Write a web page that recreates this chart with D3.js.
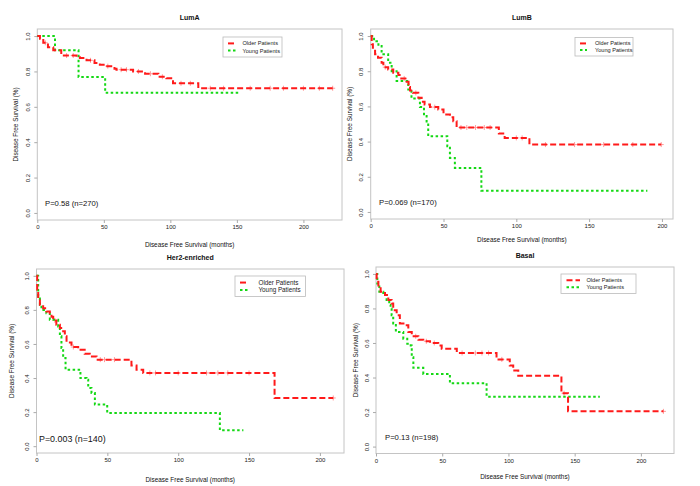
<!DOCTYPE html>
<html>
<head>
<meta charset="utf-8">
<script src="https://cdn.jsdelivr.net/npm/d3@7"></script>
<style>
  body { margin: 0; background: #fff; }
  svg { display: block; font-family: "Liberation Sans", Arial, sans-serif; }
</style>
</head>
<body>
<svg id="chart" width="700" height="486"></svg>
<script>
// ---- data (time in months, survival fraction), step-after ----
var lumaOldT = [0, 2, 4.5, 8, 12, 18, 29.5, 32, 37, 43, 47, 51, 58, 59.5, 72, 81, 91, 97, 102, 121, 222];
var lumaOldS = [1, 0.985, 0.962, 0.937, 0.92, 0.89, 0.88, 0.876, 0.863, 0.848, 0.838, 0.83, 0.815, 0.81, 0.80, 0.787, 0.77, 0.762, 0.733, 0.705, 0.705];
var lumaYoungT = [0, 13.3, 31, 51, 151];
var lumaYoungS = [1, 0.92, 0.768, 0.68, 0.68];

var lumbOldT = [0, 0.7, 1.5, 3, 5, 7.5, 8.7, 12, 15.5, 19, 21, 24.7, 26, 27, 29, 32.7, 35, 37, 40.7, 46.4, 50, 54.4, 56.7, 59, 88, 92, 109, 199.5];
var lumbOldS = [1, 0.953, 0.933, 0.896, 0.877, 0.848, 0.823, 0.81, 0.791, 0.778, 0.759, 0.74, 0.71, 0.69, 0.677, 0.649, 0.626, 0.611, 0.596, 0.583, 0.554, 0.539, 0.516, 0.48, 0.446, 0.421, 0.383, 0.383];
var lumbYoungT = [0, 2.3, 5.3, 7.5, 12, 14.4, 17.8, 25.8, 28, 33.8, 36.6, 38.4, 39.5, 52.6, 54.4, 57.8, 76, 190];
var lumbYoungS = [1, 0.97, 0.943, 0.896, 0.848, 0.80, 0.744, 0.696, 0.645, 0.596, 0.545, 0.497, 0.431, 0.374, 0.307, 0.25, 0.121, 0.121];

var her2OldT = [0, 0.5, 1.2, 2.4, 4.7, 7, 9.4, 10.6, 11.8, 14, 16.5, 18.8, 20, 21.2, 24.7, 29.4, 34, 37.6, 42.4, 67, 70.6, 75.3, 168, 209.4];
var her2OldS = [1, 0.918, 0.869, 0.83, 0.81, 0.791, 0.78, 0.76, 0.738, 0.713, 0.693, 0.674, 0.645, 0.609, 0.582, 0.566, 0.543, 0.527, 0.508, 0.473, 0.449, 0.43, 0.283, 0.283];
var her2YoungT = [0, 1.2, 2.4, 3.5, 7, 9.4, 15.3, 16.5, 17.6, 18.8, 20.5, 31, 35.3, 36.5, 38.8, 41.2, 49.9, 129.4, 146];
var her2YoungS = [1, 0.879, 0.83, 0.80, 0.78, 0.742, 0.703, 0.645, 0.576, 0.518, 0.449, 0.40, 0.39, 0.342, 0.312, 0.244, 0.195, 0.094, 0.094];

var basalOldT = [0, 0.5, 1.8, 3.5, 6.8, 9.3, 11.8, 13, 15.6, 18, 21.9, 24.4, 27, 32, 35.7, 40.8, 47, 49.6, 61, 91, 101, 103.6, 107.4, 140, 145, 217];
var basalOldS = [1, 0.955, 0.926, 0.897, 0.878, 0.849, 0.829, 0.79, 0.761, 0.713, 0.703, 0.664, 0.639, 0.619, 0.61, 0.60, 0.586, 0.567, 0.542, 0.505, 0.47, 0.44, 0.41, 0.309, 0.204, 0.204];
var basalYoungT = [0, 1, 2.5, 5.5, 8, 10, 11, 11.8, 13, 15, 20.6, 23.6, 26.2, 27, 28.2, 35.7, 55.8, 83.5, 169];
var basalYoungS = [1, 0.945, 0.897, 0.878, 0.849, 0.82, 0.80, 0.761, 0.713, 0.664, 0.625, 0.596, 0.586, 0.518, 0.456, 0.421, 0.367, 0.289, 0.289];

// censored times on the older-patients curves (light "+" marks)
var lumaCensor = [6, 22, 27, 40, 53, 63, 67, 76, 85, 94, 108, 115, 130, 140, 160, 175, 185, 200, 212, 222];
var lumbCensor = [10, 23, 31, 44, 62, 66, 72, 78, 82, 100, 104, 120, 140, 160, 180, 199.5];
var her2Censor = [13, 26, 45, 48, 55, 80, 84, 100, 120, 128, 135, 150, 209.4];
var basalCensor = [30, 38, 44, 65, 75, 80, 85, 95, 142, 217];

var panelTitles = ["LumA", "LumB", "Her2-enriched", "Basal"];
var pLabels = ["P=0.58 (n=270)", "P=0.069 (n=170)", "P=0.003 (n=140)", "P=0.13 (n=198)"];
var legendLabels = ["Older Patients", "Young Patients"];
var xTicks = [0, 50, 100, 150, 200];
var yTicks = [0, 0.2, 0.4, 0.6, 0.8, 1.0];

var xLabel = "Disease Free Survival (months)";
var yLabel = "Disease Free Survival (%)";

var RED = "#ff1a1a";
var GREEN = "#14d814";

// ---- layout ----
var panels = [
    { left: 37.3, right: 342, top: 29, bottom: 220, xmax: 229,
      old: [lumaOldT, lumaOldS], young: [lumaYoungT, lumaYoungS], censor: lumaCensor,
      xlabDy: 24, ylabDx: -22, pX: 45, pY: 203.5, pSize: 7.7,
      leg: { x: 223, y: 37, w: 59, h: 20, fs: 5.6, sx: 228, sw: 8, tx: 242.5 } },
    { left: 370.7, right: 673, top: 29, bottom: 219, xmax: 207.6,
      old: [lumbOldT, lumbOldS], young: [lumbYoungT, lumbYoungS], censor: lumbCensor,
      xlabDy: 20.5, ylabDx: -21.5, pX: 379, pY: 202, pSize: 7.7,
      leg: { x: 575, y: 37.5, w: 58, h: 18.5, fs: 5.6, sx: 580, sw: 7, tx: 595 } },
    { left: 36.5, right: 344, top: 269, bottom: 453, xmax: 217,
      old: [her2OldT, her2OldS], young: [her2YoungT, her2YoungS], censor: her2Censor,
      xlabDy: 26, ylabDx: -25.5, pX: 39, pY: 439, pSize: 8.9,
      leg: { x: 235, y: 276, w: 70.5, h: 20.5, fs: 6.3, sx: 240, sw: 8.5, tx: 258.5 } },
    { left: 376, right: 674, top: 267, bottom: 453.5, xmax: 225,
      old: [basalOldT, basalOldS], young: [basalYoungT, basalYoungS], censor: basalCensor,
      xlabDy: 22.5, ylabDx: -21, pX: 385, pY: 437.5, pSize: 7.7,
      leg: { x: 561, y: 274, w: 75, h: 19.5, fs: 5.6, sx: 566.5, sw: 13.5, tx: 586.5 } }
];

var svg = d3.select("#chart");
var fmtY = d3.format(".1f");

function stepAt(T, S, t) {
    var s = S[0];
    for (var i = 0; i < T.length; i++) {
        if (T[i] <= t) { s = S[i]; }
    }
    return s;
}

panels.forEach(function (p, idx) {
    var x = d3.scaleLinear().domain([0, p.xmax]).range([p.left, p.right]);
    var y = d3.scaleLinear().domain([-0.04, 1.04]).range([p.bottom, p.top]);
    var g = svg.append("g");

    // plot box
    g.append("rect")
        .attr("x", p.left).attr("y", p.top)
        .attr("width", p.right - p.left).attr("height", p.bottom - p.top)
        .attr("fill", "none").attr("stroke", "#c4c4c4").attr("stroke-width", 1);

    // x axis
    var xa = g.append("g").attr("transform", "translate(0," + p.bottom + ")")
        .call(d3.axisBottom(x).tickValues(xTicks).tickSize(3).tickFormat(d3.format("d")));
    xa.select(".domain").remove();
    xa.selectAll("line").attr("stroke", "#aaa");
    xa.selectAll("text").attr("font-size", 6).attr("fill", "#222").attr("dy", "0.55em")
        .attr("font-family", "Liberation Sans, Arial, sans-serif");

    // y axis
    var ya = g.append("g").attr("transform", "translate(" + p.left + ",0)")
        .call(d3.axisLeft(y).tickValues(yTicks).tickSize(3).tickFormat(fmtY));
    ya.select(".domain").remove();
    ya.selectAll("line").attr("stroke", "#aaa");
    ya.selectAll("text")
        .attr("font-size", 6).attr("fill", "#222")
        .attr("font-family", "Liberation Sans, Arial, sans-serif")
        .attr("text-anchor", "middle").attr("x", null).attr("dy", null)
        .attr("dominant-baseline", "central")
        .attr("transform", "translate(-9.5,0) rotate(-90)");

    // titles
    var cx = (p.left + p.right) / 2;
    g.append("text").attr("x", cx).attr("y", p.top - 12)
        .attr("text-anchor", "middle").attr("dominant-baseline", "central")
        .attr("font-size", 7).attr("font-weight", "bold").attr("fill", "#111")
        .text(panelTitles[idx]);
    g.append("text").attr("x", cx).attr("y", p.bottom + p.xlabDy)
        .attr("text-anchor", "middle").attr("dominant-baseline", "central")
        .attr("font-size", 6.4).attr("fill", "#111")
        .text(xLabel);
    g.append("text")
        .attr("transform", "translate(" + (p.left + p.ylabDx) + "," + ((p.top + p.bottom) / 2) + ") rotate(-90)")
        .attr("text-anchor", "middle").attr("dominant-baseline", "central")
        .attr("font-size", 6.4).attr("fill", "#111")
        .text(yLabel);

    // curves
    var line = d3.line()
        .x(function (d) { return x(d[0]); })
        .y(function (d) { return y(d[1]); })
        .curve(d3.curveStepAfter);

    var oldPts = d3.zip(p.old[0], p.old[1]);
    var youngPts = d3.zip(p.young[0], p.young[1]);

    // censor marks under the red line
    g.selectAll(".cens").data(p.censor).enter().append("path")
        .attr("class", "cens")
        .attr("transform", function (d) {
            return "translate(" + x(d) + "," + y(stepAt(p.old[0], p.old[1], d)) + ")";
        })
        .attr("d", "M-2.5,0H2.5M0,-2.5V2.5")
        .attr("stroke", "#ff9a9a").attr("stroke-width", 1);

    g.append("path").datum(youngPts)
        .attr("d", line).attr("fill", "none")
        .attr("stroke", GREEN).attr("stroke-width", 2)
        .attr("stroke-dasharray", "2.5,2.5");
    g.append("path").datum(oldPts)
        .attr("d", line).attr("fill", "none")
        .attr("stroke", RED).attr("stroke-width", 2)
        .attr("stroke-dasharray", "6,3");

    // P value
    g.append("text").attr("x", p.pX).attr("y", p.pY)
        .attr("dominant-baseline", "central")
        .attr("font-size", p.pSize).attr("fill", "#111")
        .text(pLabels[idx]);

    // legend
    var L = p.leg;
    g.append("rect").attr("x", L.x).attr("y", L.y).attr("width", L.w).attr("height", L.h)
        .attr("fill", "#fff").attr("stroke", "#bbb").attr("stroke-width", 0.8);
    var rowY = [L.y + L.h * 0.32, L.y + L.h * 0.68];
    [[RED, "6,3"], [GREEN, "2.5,2.5"]].forEach(function (st, i) {
        g.append("line").attr("x1", L.sx).attr("x2", L.sx + L.sw)
            .attr("y1", rowY[i]).attr("y2", rowY[i])
            .attr("stroke", st[0]).attr("stroke-width", 2)
            .attr("stroke-dasharray", st[1]);
        g.append("text").attr("x", L.tx).attr("y", rowY[i])
            .attr("dominant-baseline", "central")
            .attr("font-size", L.fs).attr("fill", "#222")
            .text(legendLabels[i]);
    });
});
</script>
</body>
</html>
